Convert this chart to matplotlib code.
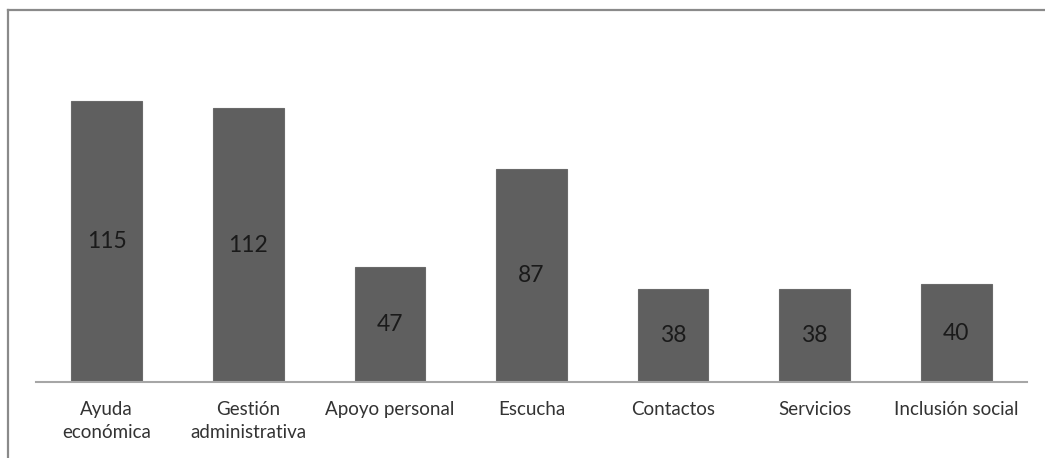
import matplotlib.pyplot as plt
from matplotlib.lines import Line2D

categories = ['Ayuda\neconómica', 'Gestión\nadministrativa', 'Apoyo personal',
              'Escucha', 'Contactos', 'Servicios', 'Inclusión social']
values = [115, 112, 47, 87, 38, 38, 40]

W, H = 1045, 458
fig = plt.figure(figsize=(W / 100, H / 100), dpi=100)
plt.rcParams['font.family'] = ['Lato', 'DejaVu Sans']

# plot area in pixels: left 36, right 1027, baseline at 382, top at 40
ax = fig.add_axes([36 / W, (H - 382) / H, (1027 - 36) / W, (382 - 40) / H])

x = range(len(values))
bars = ax.bar(x, values, width=0.5, color='#5f5f5f', edgecolor='#6a6a6a',
              linewidth=0.8, zorder=2)
for b, v in zip(bars, values):
    ax.text(b.get_x() + b.get_width() / 2, v / 2, str(v), ha='center',
            va='center', fontsize=16.5, color='#1a1a1a')

ax.set_xlim(-0.5, len(values) - 0.5)
ax.set_ylim(0, 140)
ax.set_xticks(list(x))
ax.set_xticklabels(categories, fontsize=13.5, color='#333333', linespacing=1.4)
ax.tick_params(axis='x', length=0, pad=14)
ax.set_yticks([])
for s in ['top', 'right', 'left']:
    ax.spines[s].set_visible(False)
ax.spines['bottom'].set_color('#a6a6a6')
ax.spines['bottom'].set_linewidth(1.5)

# outer chart frame, only top and left edges fall inside the image
fig.add_artist(Line2D([8 / W, 1.0], [1 - 10 / H, 1 - 10 / H],
                      transform=fig.transFigure, color='#8a8a8a', lw=1.6))
fig.add_artist(Line2D([8 / W, 8 / W], [0.0, 1 - 10 / H],
                      transform=fig.transFigure, color='#8a8a8a', lw=1.6))

fig.savefig('out.png', dpi=100)
